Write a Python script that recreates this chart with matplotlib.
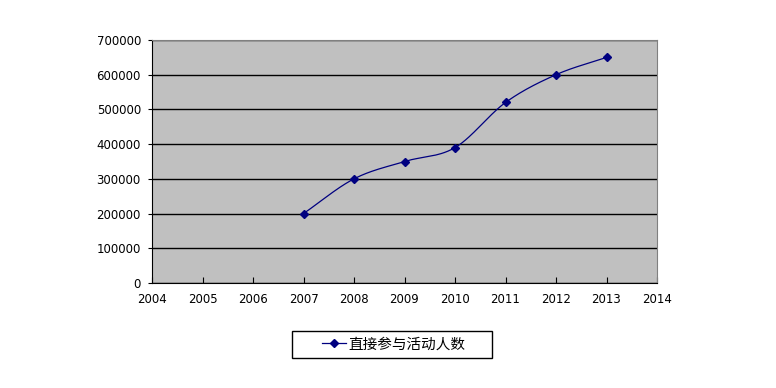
import numpy as np
import matplotlib
matplotlib.use("Agg")
import matplotlib.pyplot as plt
from matplotlib.patches import Rectangle

plt.rcParams['font.family'] = ['Noto Sans CJK SC', 'DejaVu Sans']

years = [2007, 2008, 2009, 2010, 2011, 2012, 2013]
people = [200000, 300000, 350000, 390000, 520000, 600000, 650000]
series_name = '直接参与活动人数'
xticks = list(range(2004, 2015))
yticks = list(range(0, 700001, 100000))


def smooth(x, y, n=30):
    # catmull-rom style smoothing like the office chart
    x = np.asarray(x, float)
    y = np.asarray(y, float)
    px = np.concatenate([[2 * x[0] - x[1]], x, [2 * x[-1] - x[-2]]])
    py = np.concatenate([[2 * y[0] - y[1]], y, [2 * y[-1] - y[-2]]])
    xs, ys = [], []
    t = np.linspace(0, 1, n)
    for i in range(1, len(px) - 2):
        p0, p1, p2, p3 = [np.array([px[j], py[j]]) for j in (i - 1, i, i + 1, i + 2)]
        c1 = p1 + (p2 - p0) / 6
        c2 = p2 - (p3 - p1) / 6
        b = ((1 - t) ** 3)[:, None] * p1 + (3 * (1 - t) ** 2 * t)[:, None] * c1 \
            + (3 * (1 - t) * t ** 2)[:, None] * c2 + (t ** 3)[:, None] * p2
        xs.extend(b[:, 0])
        ys.extend(b[:, 1])
    return xs, ys


W, H = 776, 388
fig = plt.figure(figsize=(W / 100, H / 100), dpi=100)
ax = fig.add_axes([152 / W, 105 / H, 505 / W, 243 / H])
ax.set_facecolor('#C0C0C0')

sx, sy = smooth(years, people)
ax.plot(sx, sy, color='#000080', lw=0.9, zorder=3)
ax.plot(years, people, ls='none', marker='D', ms=4.5, color='#000080', zorder=4)

ax.set_xlim(2004, 2014)
ax.set_ylim(0, 700000)
ax.set_xticks(xticks)
ax.set_yticks(yticks)
ax.set_xticklabels([str(v) for v in xticks], family='DejaVu Sans', fontsize=8.5)
ax.set_yticklabels([str(v) for v in yticks], family='DejaVu Sans', fontsize=8.5)
ax.yaxis.grid(True, color='black', lw=1)
ax.set_axisbelow(True)
ax.tick_params(axis='x', direction='in', length=4, pad=7)
ax.tick_params(axis='y', direction='out', length=3, pad=5)
for s in ['top', 'right']:
    ax.spines[s].set_color('#808080')
for s in ['left', 'bottom']:
    ax.spines[s].set_color('black')

# legend box drawn by hand, excel-style wide frame
fig.patches.append(Rectangle((292 / W, (H - 358) / H), 200 / W, 27 / H,
                             transform=fig.transFigure, fill=False,
                             edgecolor='black', lw=1))
handle, = ax.plot([], [], color='#000080', lw=0.9, marker='D', ms=4)
fig.legend([handle], [series_name], loc='center left',
           bbox_to_anchor=(322 / W, (H - 344.5) / H),
           frameon=False, fontsize=10.5, borderpad=0, borderaxespad=0,
           handlelength=1.64, handletextpad=0.2)

fig.savefig('out.png', dpi=100)
